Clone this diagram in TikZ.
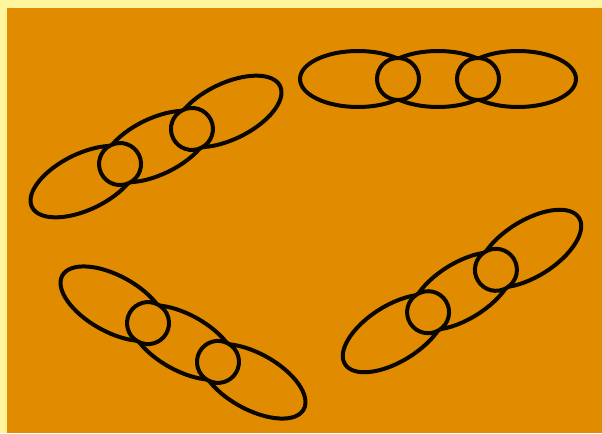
\documentclass[tikz,border=0pt]{standalone}
\usepackage{xcolor}
\usepackage{tikz}
\definecolor{frameyellow}{HTML}{FFF59C}
\definecolor{paperorange}{HTML}{E18C00}
\definecolor{inkblack}{HTML}{0A0600}

\begin{document}
\begin{tikzpicture}[x=0.02cm,y=-0.02cm,
    link/.style={draw=inkblack,line width=0.08cm},
    ring/.style={link,fill=paperorange}]
    \fill[frameyellow] (0,0) rectangle (602,433);
    \fill[paperorange] (7,8) rectangle (602,433);
    % top left chain
    \begin{scope}[shift={(156,146.5)},rotate=26]
      \draw[link] (-80,0) ellipse (58 and 28); \draw[link] (0,0) ellipse (58 and 28);
      \draw[link] (80,0) ellipse (58 and 28);
      \draw[ring] (-40,0) circle (21); \draw[ring] (40,0) circle (21);
    \end{scope}
    % top right chain
    \begin{scope}[shift={(438,79)}]
      \draw[link] (-80,0) ellipse (58 and 28); \draw[link] (0,0) ellipse (58 and 28);
      \draw[link] (80,0) ellipse (58 and 28);
      \draw[ring] (-40,0) circle (21); \draw[ring] (40,0) circle (21);
    \end{scope}
    % bottom left chain
    \begin{scope}[shift={(183,342.5)},rotate=-29]
      \draw[link] (-80,0) ellipse (58 and 28); \draw[link] (0,0) ellipse (58 and 28);
      \draw[link] (80,0) ellipse (58 and 28);
      \draw[ring] (-40,0) circle (21); \draw[ring] (40,0) circle (21);
    \end{scope}
    % bottom right chain
    \begin{scope}[shift={(462,291)},rotate=32]
      \draw[link] (-80,0) ellipse (58 and 28); \draw[link] (0,0) ellipse (58 and 28);
      \draw[link] (80,0) ellipse (58 and 28);
      \draw[ring] (-40,0) circle (21); \draw[ring] (40,0) circle (21);
    \end{scope}
\end{tikzpicture}
\end{document}
